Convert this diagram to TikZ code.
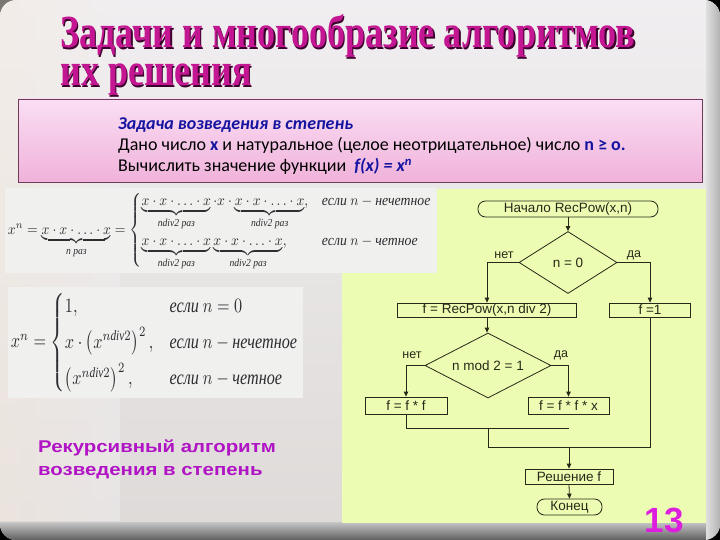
\documentclass[tikz,border=0pt]{standalone}
\usepackage{fontspec}
\usepackage{amsmath}
\usepackage{graphicx}
\setmainfont{Liberation Serif}
\newfontfamily\carl{Carlito}
\newfontfamily\arialf{Liberation Sans}
\usetikzlibrary{shapes.geometric,arrows.meta}
\definecolor{titlec}{RGB}{196,22,146}
\definecolor{titlesh}{RGB}{60,0,45}
\definecolor{pinktop}{RGB}{250,222,244}
\definecolor{pinkbot}{RGB}{240,178,218}
\definecolor{pinkbd}{RGB}{110,60,90}
\definecolor{bluet}{RGB}{20,20,160}
\definecolor{greenp}{RGB}{236,252,178}
\definecolor{magt}{RGB}{176,20,196}
\definecolor{numc}{RGB}{222,30,222}
\definecolor{fline}{RGB}{40,40,25}
\definecolor{formc}{RGB}{45,45,50}
\definecolor{formbg}{RGB}{240,240,238}
\definecolor{bgtop}{RGB}{240,238,240}
\definecolor{bgbot}{RGB}{222,218,216}
\newcommand{\myxprod}{x\cdot x\cdot\ldots\cdot x}
\tikzset{
  fbox/.style={draw=fline, line width=0.8pt, inner sep=0pt, text=fline,
    font=\arialf\fontsize{13.5}{14}\selectfont},
  term/.style={fbox, rounded corners=7.5pt},
  dia/.style={fbox, diamond, inner sep=0pt},
  arr/.style={draw=fline, line width=0.8pt, -{Triangle[length=5pt,width=4.5pt]}},
  ln/.style={draw=fline, line width=0.8pt},
  lab/.style={text=fline, font=\arialf\fontsize{12.5}{13}\selectfont, inner sep=0pt},
  ttl/.style={anchor=base west, inner sep=0pt, font=\fontsize{46}{50}\selectfont\bfseries},
  ptext/.style={anchor=base west, inner sep=0pt, font=\carl\fontsize{18}{20}\selectfont},
  rtext/.style={anchor=base west, inner sep=0pt, text=magt, font=\arialf\fontsize{17}{20}\selectfont\bfseries}
}
\begin{document}
\begin{tikzpicture}[x=1pt,y=-1pt]
\useasboundingbox (0,0) rectangle (720,540);
% background
\fill[black] (0,0) rectangle (720,540);
\shade[top color=bgtop, bottom color=bgbot, rounded corners=16pt] (0,0) rectangle (720,540);
\shade[left color=white!85!brown, right color=bgtop, opacity=0.5] (0,0) rectangle (120,520);
\begin{scope}
\clip[rounded corners=16pt] (0,0) rectangle (720,540);
\shade[top color=gray!45, bottom color=gray!75!black] (0,522) rectangle (720,540);
\shade[left color=gray!25, right color=gray!60] (706,0) rectangle (720,540);
\end{scope}
% title
\node[ttl, text=titlesh] (t1s) at (61.5,49.5) {\scalebox{0.785}[1]{Задачи и многообразие алгоритмов}};
\node[ttl, text=titlec] (t1) at (60,48) {\scalebox{0.785}[1]{Задачи и многообразие алгоритмов}};
\node[ttl, text=titlesh] (t2s) at (61.5,87.5) {\scalebox{0.785}[1]{их решения}};
\node[ttl, text=titlec] (t2) at (60,86) {\scalebox{0.785}[1]{их решения}};
% pink box
\shade[top color=pinktop, bottom color=pinkbot, draw=pinkbd, line width=0.8pt] (18,99) rectangle (702,182);
\node[ptext, text=bluet] (p1) at (118,130) {\bfseries\itshape Задача возведения в степень};
\node[ptext] (p2) at (118,151) {Дано число {\color{bluet}\bfseries x} и натуральное (целое неотрицательное) число {\color{bluet}\bfseries n ≥ o.}};
\node[ptext] (p3) at (118,172) {Вычислить значение функции \ {\color{bluet}\bfseries\itshape f(x) = x\textsuperscript{n}}};
% green panel
\fill[greenp] (342,189) rectangle (706,523);
% formula box 1
\fill[formbg] (5,188) rectangle (437,273);
\node[text=formc, inner sep=0pt] (f1) at (220,230.5) {\resizebox*{424pt}{80pt}{$x^n=\underbrace{x\cdot x\cdot\ldots\cdot x}_{\text{\itshape n раз}}=\begin{cases}\underbrace{\myxprod}_{\text{\itshape ndiv2 раз}}\cdot x\cdot\underbrace{\myxprod}_{\text{\itshape ndiv2 раз}}, & \text{\itshape если } n-\text{\itshape нечетное}\\[6pt] \underbrace{\myxprod}_{\text{\itshape ndiv2 раз}}\underbrace{\myxprod}_{\text{\itshape ndiv2 раз}}, & \text{\itshape если } n-\text{\itshape четное}\end{cases}$}};
% formula box 2
\fill[formbg] (8,287) rectangle (303,398);
\node[text=formc, inner sep=0pt] (f2) at (155,342.5) {\resizebox*{288pt}{102pt}{$x^n=\begin{cases}1, & \text{\itshape если } n=0\\[3pt] x\cdot\left(x^{n\mathit{div}2}\right)^2, & \text{\itshape если } n-\text{\itshape нечетное}\\[3pt] \left(x^{n\mathit{div}2}\right)^2, & \text{\itshape если } n-\text{\itshape четное}\end{cases}$}};
% red text
\node[rtext] (r1) at (38,452) {\scalebox{1.2}[1]{Рекурсивный алгоритм}};
\node[rtext] (r2) at (38,475) {\scalebox{1.2}[1]{возведения в степень}};
% flowchart
\node[term, minimum width=180pt, minimum height=16pt] (st) at (568,209) {Начало RecPow(x,n)};
\node[dia, minimum width=98pt, minimum height=62pt, aspect=1.58] (d1) at (568,262.5) {n = 0};
\node[fbox, minimum width=179pt, minimum height=14pt] (b1) at (487,310) {f = RecPow(x,n div 2)};
\node[fbox, minimum width=81pt, minimum height=14pt] (b2) at (650,310) {f =1};
\node[dia, minimum width=126pt, minimum height=65pt, aspect=1.94] (d2) at (488,365.5) {n mod 2 = 1};
\node[fbox, minimum width=82pt, minimum height=17pt] (b3) at (406,405.5) {f = f * f};
\node[fbox, minimum width=81pt, minimum height=17pt] (b4) at (568.5,405.5) {f = f * f * x};
\node[fbox, minimum width=88pt, minimum height=15pt] (b5) at (569,476.5) {Решение f};
\node[term, minimum width=65pt, minimum height=16pt] (en) at (569.5,507) {Конец};
\node[lab] (l1) at (504,255) {нет};
\node[lab] (l2) at (634,255) {да};
\node[lab] (l3) at (412,355) {нет};
\node[lab] (l4) at (561,355) {да};
\draw[arr] (st.south) -- (d1.north);
\draw[arr] (d1.west) -| (b1.north);
\draw[arr] (d1.east) -| (b2.north);
\draw[arr] (b1.south) -- (b1.south |- d2.north);
\draw[arr] (d2.west) -| (b3.north);
\draw[arr] (d2.east) -| (b4.north);
\coordinate (m1) at (569,428);
\coordinate (m2) at (488,428);
\coordinate (m3) at (488,447);
\coordinate (m4) at (569,447);
\draw[ln] (b3.south) |- (m1);
\draw[ln] (m2) -- (m3);
\draw[ln] (b2.south) |- (m3);
\draw[arr] (m4) -- (b5.north);
\draw[arr] (b5.south) -- (en.north);
% page number
\node[inner sep=0pt, text=numc, font=\arialf\fontsize{35}{36}\selectfont\bfseries] (pg) at (664,520.5) {13};
\end{tikzpicture}
\end{document}
